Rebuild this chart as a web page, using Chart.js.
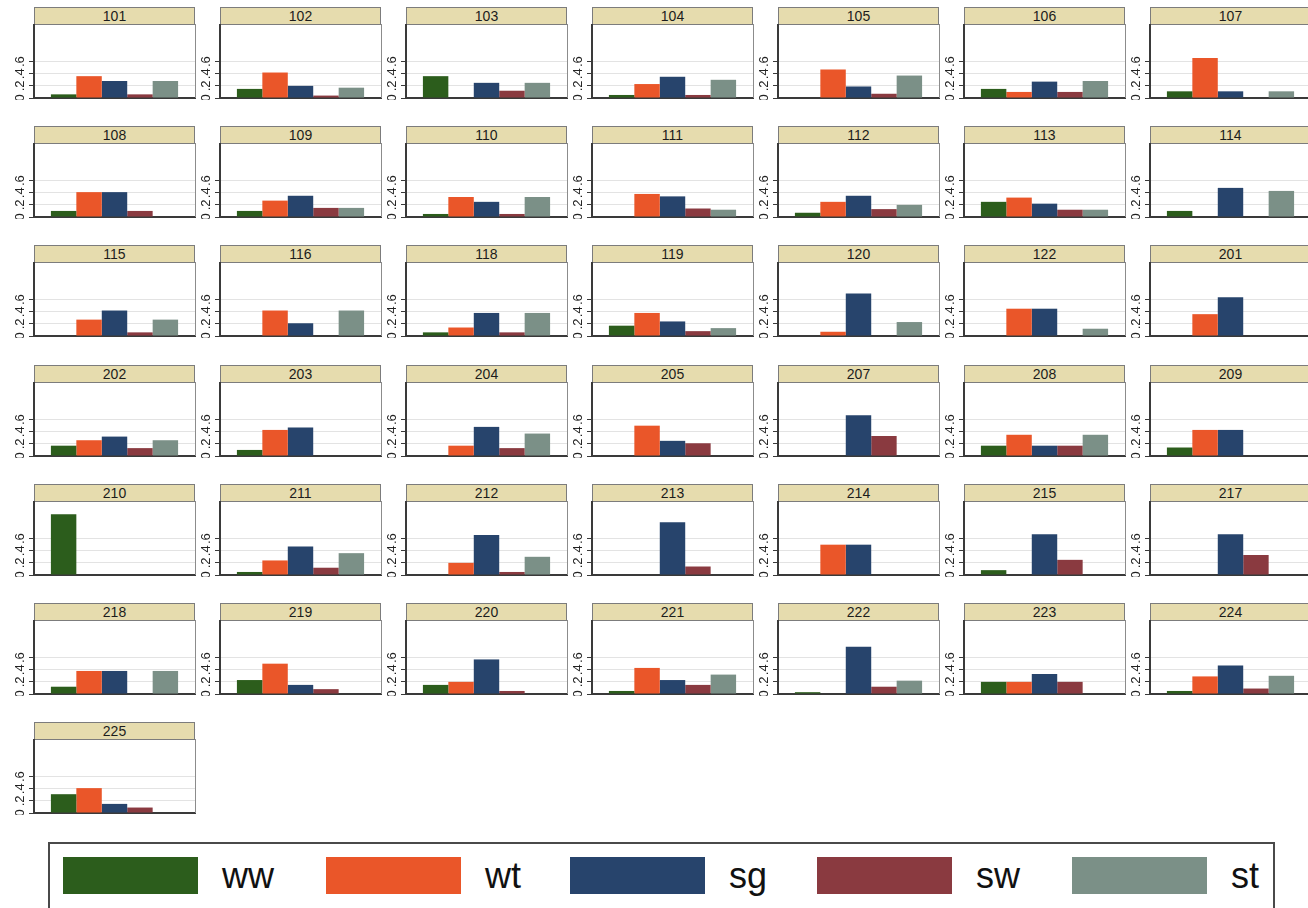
<!DOCTYPE html>
<html>
<head>
<meta charset="utf-8">
<script src="https://cdn.jsdelivr.net/npm/chart.js@4.4.1/dist/chart.umd.min.js"></script>
<style>
  html, body { margin: 0; padding: 0; background: #fff; }
  body { width: 1308px; height: 908px; overflow: hidden; position: relative;
         font-family: "Liberation Sans", Arial, Helvetica, sans-serif; }
  .strip { position: absolute; height: 18px; box-sizing: border-box; background: #e6dcae;
           border: 1px solid #7c7c7c; text-align: center; font-size: 14px; line-height: 16px; color: #1c1c1c; }
  .panel { position: absolute; }
  #legend { position: absolute; left: 48px; top: 842px; width: 1227px; height: 80px;
            box-sizing: border-box; border: 2px solid #4a4a4a; background: #fff; }
  .key { position: absolute; top: 13px; width: 135px; height: 37px; }
  .ktext { position: absolute; top: 12px; font-size: 36px; line-height: 40px; color: #111; }
</style>
</head>
<body>
<div id="legend"></div>
<script>
// Panel ids (one small bar chart each)
const panels = ['101','102','103','104','105','106','107',
                '108','109','110','111','112','113','114',
                '115','116','118','119','120','122','201',
                '202','203','204','205','207','208','209',
                '210','211','212','213','214','215','217',
                '218','219','220','221','222','223','224',
                '225'];

// Series names and share values per panel (null = no bar)
const seriesNames = ['ww', 'wt', 'sg', 'sw', 'st'];
const ww = [0.06,0.15,0.36,0.05,null,0.15,0.11,
            0.10,0.10,0.05,null,0.07,0.25,0.10,
            null,null,0.06,0.17,null,null,null,
            0.17,0.10,null,null,null,0.17,0.14,
            1.00,0.05,null,null,null,0.08,null,
            0.12,0.23,0.15,0.05,0.03,0.20,0.05,
            0.31];
const wt = [0.36,0.42,null,0.23,0.47,0.10,0.66,
            0.41,0.27,0.33,0.38,0.25,0.32,null,
            0.27,0.42,0.14,0.38,0.07,0.45,0.36,
            0.26,0.43,0.17,0.50,null,0.35,0.43,
            null,0.24,0.20,null,0.50,null,null,
            0.38,0.50,0.20,0.43,null,0.20,0.29,
            0.41];
const sg = [0.28,0.20,0.25,0.35,0.19,0.27,0.11,
            0.41,0.35,0.25,0.34,0.35,0.22,0.48,
            0.42,0.21,0.38,0.24,0.70,0.45,0.64,
            0.32,0.47,0.48,0.25,0.67,0.17,0.43,
            null,0.47,0.66,0.87,0.50,0.67,0.67,
            0.38,0.15,0.57,0.23,0.78,0.33,0.47,
            0.15];
const sw = [0.06,0.04,0.12,0.05,0.07,0.10,null,
            0.10,0.15,0.05,0.14,0.13,0.12,null,
            0.06,null,0.06,0.08,null,null,null,
            0.13,null,0.13,0.21,0.33,0.17,null,
            null,0.12,0.05,0.14,null,0.25,0.33,
            null,0.08,0.05,0.15,0.12,0.20,0.09,
            0.09];
const st = [0.28,0.17,0.25,0.30,0.37,0.28,0.11,
            null,0.15,0.33,0.12,0.20,0.12,0.43,
            0.27,0.42,0.38,0.13,0.23,0.12,null,
            0.26,null,0.37,null,null,0.35,null,
            null,0.36,0.30,null,null,null,null,
            0.38,null,null,0.32,0.22,null,0.30,
            null];
const seriesValues = [ww, wt, sg, sw, st];
const seriesColors = ['#2c5d1c', '#ea5629', '#27446c', '#8a3a40', '#7b9087'];

// y axis
const tickValues = [0, 0.2, 0.4, 0.6];
const tickLabels = ['0', '.2', '.4', '.6'];
const yMax = 1.22;

// grid geometry
const COLS = 7, COL_W = 186, ROW_H = 119.2, TOP0 = 7;
const AXIS_W = 34, PLOT_W = 160, STRIP_H = 17, PLOT_H = 73;

// frame, y labels drawn against the scale
const panelDecor = {
  id: 'panelDecor',
  afterDraw(chart) {
    const { ctx, chartArea: a, scales: { y } } = chart;
    ctx.save();
    ctx.strokeStyle = '#8c8c8c';
    ctx.lineWidth = 1;
    ctx.beginPath();
    ctx.moveTo(Math.round(a.right) + 0.5, a.top);
    ctx.lineTo(Math.round(a.right) + 0.5, a.bottom);
    ctx.stroke();
    ctx.fillStyle = '#222';
    ctx.font = '13px "Liberation Sans", Arial, sans-serif';
    ctx.textAlign = 'center';
    ctx.textBaseline = 'middle';
    tickValues.forEach((v, k) => {
      const py = y.getPixelForValue(v);
      ctx.save();
      ctx.translate(a.left - 14, py);
      ctx.rotate(-Math.PI / 2);
      ctx.fillText(tickLabels[k], 0, 0);
      ctx.restore();
    });
    ctx.restore();
  }
};

panels.forEach((name, i) => {
  const c = i % COLS, r = Math.floor(i / COLS);
  const left = c * COL_W;
  const top = Math.round(TOP0 + r * ROW_H);

  const strip = document.createElement('div');
  strip.className = 'strip';
  strip.style.left = (left + AXIS_W) + 'px';
  strip.style.top = top + 'px';
  strip.style.width = (PLOT_W + 1) + 'px';
  strip.textContent = name;
  document.body.appendChild(strip);

  const canvas = document.createElement('canvas');
  canvas.className = 'panel';
  canvas.width = AXIS_W + PLOT_W + 4;
  canvas.height = PLOT_H + 3;
  canvas.style.left = left + 'px';
  canvas.style.top = (top + STRIP_H) + 'px';
  document.body.appendChild(canvas);

  new Chart(canvas, {
    type: 'bar',
    data: {
      labels: [''],
      datasets: seriesNames.map((s, k) => ({
        label: s,
        data: [seriesValues[k][i]],
        backgroundColor: seriesColors[k],
        borderWidth: 0,
        categoryPercentage: 0.79,
        barPercentage: 1
      }))
    },
    options: {
      responsive: false,
      animation: false,
      devicePixelRatio: 1,
      layout: { padding: { left: 0, right: 3, top: 0, bottom: 0 } },
      plugins: { legend: { display: false }, tooltip: { enabled: false } },
      scales: {
        x: {
          offset: true,
          grid: { display: false },
          ticks: { display: false },
          border: { display: true, color: '#3a3a3a', width: 2 },
          afterFit: s => { s.height = 2; }
        },
        y: {
          min: 0, max: yMax,
          afterBuildTicks: s => { s.ticks = tickValues.map(v => ({ value: v })); },
          ticks: { display: false },
          grid: { color: '#e3e3e3', lineWidth: 1, drawTicks: true, tickLength: 5,
                  tickColor: '#3a3a3a', tickWidth: 1 },
          border: { display: true, color: '#3a3a3a', width: 2 },
          afterFit: s => { s.width = AXIS_W; }
        }
      }
    },
    plugins: [panelDecor]
  });
});

// shared legend
const legend = document.getElementById('legend');
const keyX = [13, 276, 520, 767, 1022];
seriesNames.forEach((s, k) => {
  const key = document.createElement('div');
  key.className = 'key';
  key.style.left = keyX[k] + 'px';
  key.style.background = seriesColors[k];
  legend.appendChild(key);
  const t = document.createElement('div');
  t.className = 'ktext';
  t.style.left = (keyX[k] + 159) + 'px';
  t.textContent = s;
  legend.appendChild(t);
});
</script>
</body>
</html>
